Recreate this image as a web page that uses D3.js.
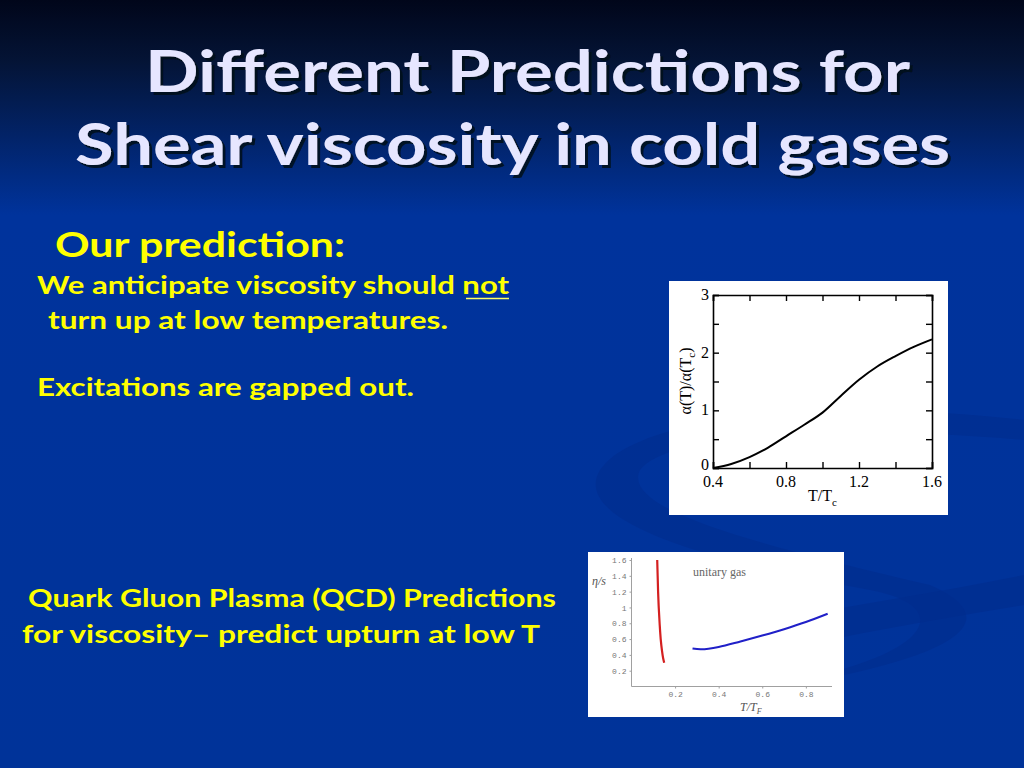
<!DOCTYPE html>
<html>
<head>
<meta charset="utf-8">
<script src="https://cdn.jsdelivr.net/npm/d3@7"></script>
<style>
  body { margin: 0; background: #003399; }
  svg { display: block; }
</style>
</head>
<body>
<div id="slide"></div>
<script>
// coupling ratio curve (upper figure)
const alphaT = [0.4, 0.5, 0.6, 0.7, 0.8, 0.9, 1.0, 1.1, 1.2, 1.3, 1.4, 1.5, 1.6];
const alphaVal = [0, 0.07, 0.19, 0.35, 0.55, 0.75, 0.96, 1.25, 1.53, 1.76, 1.94, 2.1, 2.23];
const alphaXTicks = [0.4, 0.8, 1.2, 1.6];
const alphaYTicks = [0, 1, 2, 3];

// unitary gas eta/s (lower figure)
const redT = [0.118, 0.12, 0.122, 0.125, 0.129, 0.134, 0.14, 0.145, 0.15];
const redEta = [1.6, 1.4, 1.2, 1.0, 0.8, 0.6, 0.45, 0.36, 0.3];
const blueT = [0.28, 0.32, 0.4, 0.5, 0.6, 0.7, 0.8, 0.9];
const blueEta = [0.48, 0.47, 0.5, 0.57, 0.645, 0.725, 0.815, 0.92];
const gasXTicks = [0.2, 0.4, 0.6, 0.8];
const gasYTicks = [0.2, 0.4, 0.6, 0.8, 1, 1.2, 1.4, 1.6];

const W = 1024, H = 768;
const svg = d3.select("#slide").append("svg")
    .attr("width", W).attr("height", H);

// background
const defs = svg.append("defs");
const bg = defs.append("linearGradient").attr("id", "bg")
    .attr("x1", 0).attr("y1", 0).attr("x2", 0).attr("y2", 1);
bg.append("stop").attr("offset", 0).attr("stop-color", "#01061a");
bg.append("stop").attr("offset", 0.08).attr("stop-color", "#041436");
bg.append("stop").attr("offset", 0.28).attr("stop-color", "#00339c");
bg.append("stop").attr("offset", 1).attr("stop-color", "#003399");
svg.append("rect").attr("width", W).attr("height", H).attr("fill", "url(#bg)");

// title shadow
defs.append("filter").attr("id", "shadow")
    .attr("x", "-5%").attr("y", "-20%").attr("width", "110%").attr("height", "140%")
  .append("feDropShadow").attr("dx", 3).attr("dy", 3).attr("stdDeviation", 0.6)
    .attr("flood-color", "#000814").attr("flood-opacity", 0.85);

// faint swooshes
svg.append("path")
    .attr("d", "M1024,420 C860,400 640,410 600,470 C570,520 700,560 870,590 C950,605 940,650 800,680 L760,690 C960,660 1010,620 930,585 C760,545 620,510 640,470 C670,430 860,425 1024,440 Z")
    .attr("fill", "#002c8c").attr("opacity", 0.55);
svg.append("path")
    .attr("d", "M600,650 C760,620 900,600 1024,575 L1024,605 C900,625 760,650 620,690 Z")
    .attr("fill", "#002c8c").attr("opacity", 0.55);

// title
const titleFont = "'Comic Sans MS', 'Lato', 'DejaVu Sans', sans-serif";
const title = [
  {t: "Different Predictions for", x: 145, y: 92, w: 765},
  {t: "Shear viscosity in cold gases", x: 75, y: 165, w: 875}
];
title.forEach(d => {
  svg.append("text").attr("x", d.x).attr("y", d.y)
    .attr("textLength", d.w).attr("lengthAdjust", "spacingAndGlyphs")
    .attr("font-family", titleFont).attr("font-size", 58).attr("font-weight", "bold")
    .attr("fill", "#e6e6ff").attr("filter", "url(#shadow)").text(d.t);
});

// yellow body text
const body = [
  {t: "Our prediction:", x: 55, y: 257, w: 290, s: 34},
  {t: "We anticipate viscosity should not", x: 37, y: 294, w: 472, s: 24},
  {t: "turn up at low temperatures.", x: 48, y: 329, w: 400, s: 24},
  {t: "Excitations are gapped out.", x: 37, y: 396, w: 377, s: 24},
  {t: "Quark Gluon Plasma (QCD) Predictions", x: 28, y: 607, w: 528, s: 24},
  {t: "for viscosity\u2013 predict upturn at low T", x: 22, y: 643, w: 518, s: 24}
];
body.forEach(d => {
  svg.append("text").attr("x", d.x).attr("y", d.y)
    .attr("textLength", d.w).attr("lengthAdjust", "spacingAndGlyphs")
    .attr("font-family", titleFont).attr("font-size", d.s).attr("font-weight", "bold")
    .attr("fill", "#ffff00").text(d.t);
});
svg.append("line").attr("x1", 466).attr("x2", 509).attr("y1", 298.5).attr("y2", 298.5)
    .attr("stroke", "#ffff66").attr("stroke-width", 1.5);

// ---- upper figure: alpha(T)/alpha(Tc)
svg.append("rect").attr("x", 669).attr("y", 281).attr("width", 279).attr("height", 234)
    .attr("fill", "#ffffff");

const x1 = d3.scaleLinear().domain([0.4, 1.6]).range([713, 932]);
const y1 = d3.scaleLinear().domain([0, 3]).range([468, 295]);
const serif = "'Liberation Serif', 'DejaVu Serif', serif";

const minorX = d3.range(0.4, 1.61, 0.2);
const minorY = d3.range(0, 3.01, 0.5);
const g1 = svg.append("g");

g1.append("g").attr("transform", "translate(0,468)")
  .call(d3.axisBottom(x1).tickValues(minorX).tickSize(-6).tickFormat(""));
g1.append("g").attr("transform", "translate(0,295)")
  .call(d3.axisTop(x1).tickValues(minorX).tickSize(-6).tickFormat(""));
g1.append("g").attr("transform", "translate(713,0)")
  .call(d3.axisLeft(y1).tickValues(minorY).tickSize(-6).tickFormat(""));
g1.append("g").attr("transform", "translate(932,0)")
  .call(d3.axisRight(y1).tickValues(minorY).tickSize(-6).tickFormat(""));
g1.selectAll(".domain").attr("stroke", "#000").attr("stroke-width", 1.6);
g1.selectAll(".tick line").attr("stroke", "#000").attr("stroke-width", 1.4);

g1.selectAll(".xlab").data(alphaXTicks).enter().append("text")
    .attr("x", d => x1(d)).attr("y", 487).attr("text-anchor", "middle")
    .attr("font-family", serif).attr("font-size", 16).text(d => d3.format(".1f")(d));
g1.selectAll(".ylab").data(alphaYTicks).enter().append("text")
    .attr("x", 709).attr("y", d => y1(d) + (d === 0 ? 2 : 5)).attr("text-anchor", "end")
    .attr("font-family", serif).attr("font-size", 16).text(d => d);

const xl = g1.append("text").attr("x", 808).attr("y", 501)
    .attr("font-family", serif).attr("font-size", 16);
xl.append("tspan").text("T/T");
xl.append("tspan").attr("font-size", 11).attr("dy", 5).text("c");

const yl = g1.append("text").attr("transform", "translate(691,381) rotate(-90)")
    .attr("text-anchor", "middle").attr("font-family", serif).attr("font-size", 16);
yl.append("tspan").text("\u03b1(T)/\u03b1(T");
yl.append("tspan").attr("font-size", 11).attr("dy", 4).text("c");
yl.append("tspan").attr("dy", -4).text(")");

g1.append("path")
    .datum(alphaT.map((t, i) => [t, alphaVal[i]]))
    .attr("fill", "none").attr("stroke", "#000").attr("stroke-width", 2)
    .attr("d", d3.line().x(d => x1(d[0])).y(d => y1(d[1])).curve(d3.curveMonotoneX));

// ---- lower figure: eta/s unitary gas
svg.append("rect").attr("x", 588).attr("y", 552).attr("width", 256).attr("height", 165)
    .attr("fill", "#ffffff");

const x2 = d3.scaleLinear().domain([0, 0.92]).range([631.5, 832]);
const y2 = d3.scaleLinear().domain([0, 1.6]).range([686.5, 560]);
const mono = "'Liberation Mono', 'DejaVu Sans Mono', monospace";
const g2 = svg.append("g");

g2.append("line").attr("x1", 631.5).attr("x2", 832).attr("y1", 686.5).attr("y2", 686.5)
    .attr("stroke", "#a0a0a0").attr("stroke-width", 1);
g2.append("line").attr("x1", 631.5).attr("x2", 631.5).attr("y1", 686.5).attr("y2", 558)
    .attr("stroke", "#a0a0a0").attr("stroke-width", 1);

const ax2 = g2.append("g").attr("transform", "translate(0,686.5)")
  .call(d3.axisBottom(x2).tickValues(gasXTicks).tickSize(2).tickPadding(3).tickFormat(d3.format(".1f")));
const ay2 = g2.append("g").attr("transform", "translate(631.5,0)")
  .call(d3.axisLeft(y2).tickValues(gasYTicks).tickSize(2).tickPadding(3).tickFormat(d => d === 1 ? "1" : d3.format(".1f")(d)));
[ax2, ay2].forEach(a => {
  a.select(".domain").remove();
  a.selectAll(".tick line").attr("stroke", "#a0a0a0");
  a.selectAll(".tick text").attr("font-family", mono).attr("font-size", 8).attr("fill", "#777");
});

g2.append("text").attr("x", 693).attr("y", 576)
    .attr("font-family", serif).attr("font-size", 12).attr("fill", "#666").text("unitary gas");
g2.append("text").attr("x", 592).attr("y", 585)
    .attr("font-family", serif).attr("font-style", "italic").attr("font-size", 12).attr("fill", "#555")
    .text("\u03b7/s");
const xl2 = g2.append("text").attr("x", 740).attr("y", 711)
    .attr("font-family", serif).attr("font-style", "italic").attr("font-size", 12).attr("fill", "#555");
xl2.append("tspan").text("T/T");
xl2.append("tspan").attr("font-size", 8).attr("dy", 3).text("F");

g2.append("path")
    .datum(redT.map((t, i) => [t, redEta[i]]))
    .attr("fill", "none").attr("stroke", "#d42020").attr("stroke-width", 2.2)
    .attr("d", d3.line().x(d => x2(d[0])).y(d => y2(d[1])).curve(d3.curveCatmullRom));
g2.append("path")
    .datum(blueT.map((t, i) => [t, blueEta[i]]))
    .attr("fill", "none").attr("stroke", "#2020c8").attr("stroke-width", 2)
    .attr("d", d3.line().x(d => x2(d[0])).y(d => y2(d[1])).curve(d3.curveCatmullRom));
</script>
</body>
</html>
